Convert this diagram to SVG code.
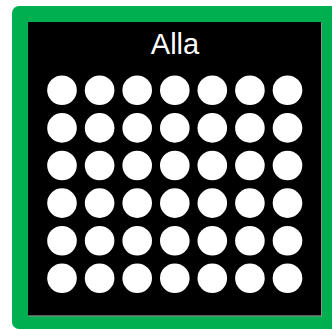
<svg xmlns="http://www.w3.org/2000/svg" width="332" height="330" viewBox="0 0 332 330">
<style>
.dot{fill:#ffffff}
.lbl{font-family:"Liberation Sans",Arial,sans-serif;font-size:29px;fill:#ffffff}
</style>
<defs>
<circle id="d" r="14.8" class="dot"/>
</defs>
<g id="frame">
<rect x="12" y="6" width="340" height="323" rx="7" fill="#00b050"/>
<rect x="28.5" y="22.5" width="293.5" height="294" fill="#8c8c8c"/>
<rect x="28" y="22" width="293" height="293.3" fill="#000000"/>
<text class="lbl" x="175" y="54" text-anchor="middle">Alla</text>
</g>
<g id="dots">
<g id="row1" transform="translate(0,90.3)">
<use href="#d" x="62"/><use href="#d" x="99.6"/><use href="#d" x="137.2"/><use href="#d" x="174.8"/><use href="#d" x="212.3"/><use href="#d" x="249.9"/><use href="#d" x="287.5"/>
</g>
<g id="row2" transform="translate(0,127.9)">
<use href="#d" x="62"/><use href="#d" x="99.6"/><use href="#d" x="137.2"/><use href="#d" x="174.8"/><use href="#d" x="212.3"/><use href="#d" x="249.9"/><use href="#d" x="287.5"/>
</g>
<g id="row3" transform="translate(0,165.5)">
<use href="#d" x="62"/><use href="#d" x="99.6"/><use href="#d" x="137.2"/><use href="#d" x="174.8"/><use href="#d" x="212.3"/><use href="#d" x="249.9"/><use href="#d" x="287.5"/>
</g>
<g id="row4" transform="translate(0,203.1)">
<use href="#d" x="62"/><use href="#d" x="99.6"/><use href="#d" x="137.2"/><use href="#d" x="174.8"/><use href="#d" x="212.3"/><use href="#d" x="249.9"/><use href="#d" x="287.5"/>
</g>
<g id="row5" transform="translate(0,240.7)">
<use href="#d" x="62"/><use href="#d" x="99.6"/><use href="#d" x="137.2"/><use href="#d" x="174.8"/><use href="#d" x="212.3"/><use href="#d" x="249.9"/><use href="#d" x="287.5"/>
</g>
<g id="row6" transform="translate(0,278.3)">
<use href="#d" x="62"/><use href="#d" x="99.6"/><use href="#d" x="137.2"/><use href="#d" x="174.8"/><use href="#d" x="212.3"/><use href="#d" x="249.9"/><use href="#d" x="287.5"/>
</g>
</g>
<g id="connectors"/>
</svg>
